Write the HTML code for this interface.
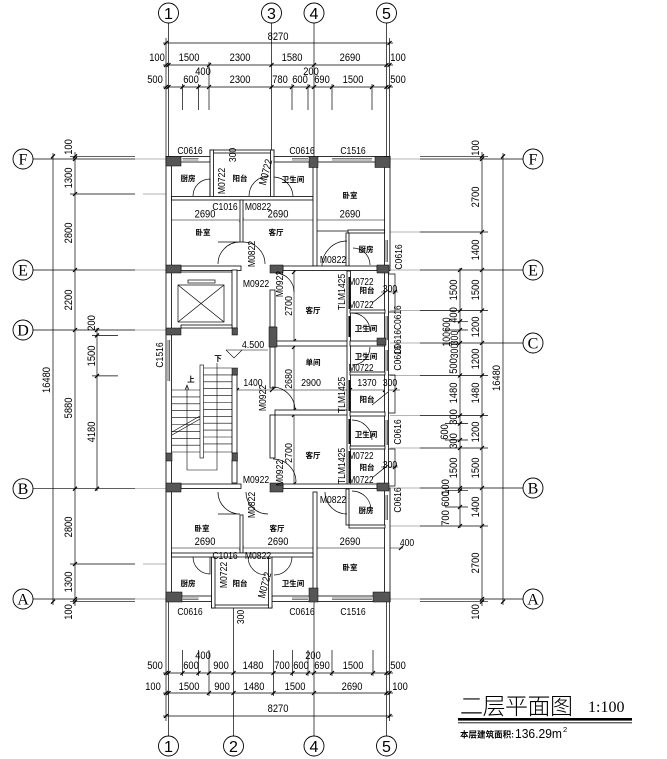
<!DOCTYPE html>
<html><head><meta charset="utf-8">
<style>
html,body{margin:0;padding:0;background:#fff;}
svg{display:block;}
.t{font-family:"Liberation Sans",sans-serif;font-size:11px;fill:#000;}
.s{font-family:"Liberation Sans",sans-serif;font-size:10.5px;fill:#000;}
.c{font-family:"Liberation Sans","Noto Sans CJK SC",sans-serif;font-size:7.5px;font-weight:bold;fill:#000;}
.ax{font-family:"Liberation Sans",sans-serif;font-size:16px;fill:#000;}
.ay{font-family:"Liberation Serif",serif;font-size:16px;fill:#000;}
</style></head><body>
<svg width="667" height="759" viewBox="0 0 667 759" xmlns="http://www.w3.org/2000/svg">
<rect width="667" height="759" fill="#fff"/>

<!-- ===== gray extension lines ===== -->
<g stroke="#9a9a9a" stroke-width="0.7" fill="none">
<path d="M135,159H166 M135,270H166 M135,330H166 M135,488.7H166 M135,599H166 M143,194H166 M143,564H166"/>
<path d="M390,159H420 M390,270H420 M390,343H420 M390,488H420 M390,599H420 M390,232H420 M390,310.5H420 M390,375.5H420 M390,415.5H420 M390,448H420 M390,526H420"/>
</g>

<!-- ===== black dimension / axis lines ===== -->
<g stroke="#000" stroke-width="0.7" fill="none">
<path d="M168.5,23V157 M271.5,23V157 M314,23V157 M386.5,23V157"/>
<path d="M166,38V157 M389.5,38V157"/>
<path d="M163,43H393 M163,65H393 M163,87H393"/>
<path d="M182.5,84V110 M198.5,84V110 M209,62V110 M292,84V110 M308,84V110 M332,84V110 M372,84V110"/>
<path d="M168.5,602V736 M233.5,608V736 M314,602V736 M386.5,602V736"/>
<path d="M166,602V721 M389.5,602V721"/>
<path d="M163,673H393 M163,693H393 M163,716H393"/>
<path d="M182.5,650V676 M198.5,650V676 M209,650V696 M273.5,650V696 M292.5,650V676 M308,650V676 M332,650V676 M373,650V676"/>
<path d="M33,159H135 M33,270H135 M33,330H135 M33,488.7H135 M33,599H135 M70,194H135 M70,564H135 M70,156.3H135 M70,601.7H135 M92,335.4H118 M92,375.9H118"/>
<path d="M53,153V605 M75,152V606 M97,328V491"/>
<path d="M420,159H523 M420,270H523 M420,343H523 M420,488H523 M420,599H523 M420,232H488 M420,310.5H488 M420,375.5H488 M420,415.5H488 M420,448H488 M420,526H488 M420,156.3H488 M420,601.7H488"/>
<path d="M445,321.3H468 M445,330H468 M445,423.6H468 M445,440H468 M445,490.7H468 M445,507H468"/>
<path d="M503,153V605 M482,152V606 M460,268V528"/>
</g>

<!-- ticks -->
<g stroke="#000" stroke-width="1.2" fill="none">
<path d="M164,45l4,-4 M387.5,45l4,-4
M164,67l4,-4 M166.5,67l4,-4 M207,67l4,-4 M269.5,67l4,-4 M312,67l4,-4 M384.5,67l4,-4 M387.5,67l4,-4
M164,89l4,-4 M166.5,89l4,-4 M180.5,89l4,-4 M196.5,89l4,-4 M207,89l4,-4 M269.5,89l4,-4 M290,89l4,-4 M306,89l4,-4 M312,89l4,-4 M330,89l4,-4 M370,89l4,-4 M384.5,89l4,-4 M387.5,89l4,-4
M164,675l4,-4 M166.5,675l4,-4 M180.5,675l4,-4 M196.5,675l4,-4 M207,675l4,-4 M231.5,675l4,-4 M271.5,675l4,-4 M290.5,675l4,-4 M306,675l4,-4 M312,675l4,-4 M330,675l4,-4 M371,675l4,-4 M384.5,675l4,-4 M387.5,675l4,-4
M164,695l4,-4 M166.5,695l4,-4 M207,695l4,-4 M231.5,695l4,-4 M271.5,695l4,-4 M312,695l4,-4 M384.5,695l4,-4 M387.5,695l4,-4
M164,718l4,-4 M387.5,718l4,-4
M51,158.3l4,-4 M51,603.7l4,-4
M73,158.3l4,-4 M73,161l4,-4 M73,196l4,-4 M73,272l4,-4 M73,332l4,-4 M73,490.7l4,-4 M73,566l4,-4 M73,601l4,-4 M73,603.7l4,-4
M95,332l4,-4 M95,337.4l4,-4 M95,377.9l4,-4 M95,490.7l4,-4
M501,158.3l4,-4 M501,603.7l4,-4
M480,158.3l4,-4 M480,161l4,-4 M480,234l4,-4 M480,272l4,-4 M480,312.5l4,-4 M480,345l4,-4 M480,377.5l4,-4 M480,417.5l4,-4 M480,450l4,-4 M480,490l4,-4 M480,528l4,-4 M480,601l4,-4 M480,603.7l4,-4
M458,272l4,-4 M458,312.5l4,-4 M458,323.3l4,-4 M458,332l4,-4 M458,345l4,-4 M458,377.5l4,-4 M458,417.5l4,-4 M458,425.6l4,-4 M458,442l4,-4 M458,450l4,-4 M458,490l4,-4 M458,492.7l4,-4 M458,509l4,-4 M458,528l4,-4
M166.5,222l4,-4 M239.5,222l4,-4 M313,222l4,-4 M384.5,222l4,-4
M166.5,550l4,-4 M239.5,550l4,-4 M313,550l4,-4 M384.5,550l4,-4 M399,550l4,-4
M292,274l4,-4 M292,343l4,-4 M292,349l4,-4 M292,412l4,-4 M292,417l4,-4 M292,486l4,-4
M235,392l4,-4 M270,392l4,-4 M348,392l4,-4 M383,392l4,-4 M393,392l4,-4
M383,294l4,-4 M393,294l4,-4 M383,469l4,-4 M393,469l4,-4
"/>
</g>

<!-- interior dimension lines -->
<g stroke="#000" stroke-width="0.6" fill="none">
<path d="M166,220H389 M166,548H403 M294,270V488 M233,390H400 M381,292H398 M381,467H398"/>
</g>

<!-- ===== circles ===== -->
<g stroke="#000" stroke-width="0.9" fill="#fff">
<circle cx="168.5" cy="13" r="10"/><circle cx="271.5" cy="13" r="10"/><circle cx="314" cy="13" r="10"/><circle cx="386.5" cy="13" r="10"/>
<circle cx="168.5" cy="746" r="10"/><circle cx="233.5" cy="746" r="10"/><circle cx="314" cy="746" r="10"/><circle cx="386.5" cy="746" r="10"/>
<circle cx="23" cy="159" r="10"/><circle cx="23" cy="270" r="10"/><circle cx="23" cy="330" r="10"/><circle cx="23" cy="488.7" r="10"/><circle cx="23" cy="599" r="10"/>
<circle cx="533" cy="159" r="10"/><circle cx="533" cy="270" r="10"/><circle cx="533" cy="343" r="10"/><circle cx="533" cy="488" r="10"/><circle cx="533" cy="599" r="10"/>
</g>
<g class="ax" text-anchor="middle">
<text x="168.5" y="19">1</text><text x="271.5" y="19">3</text><text x="314" y="19">4</text><text x="386.5" y="19">5</text>
<text x="168.5" y="752">1</text><text x="233.5" y="752">2</text><text x="314" y="752">4</text><text x="386.5" y="752">5</text>
</g>
<g class="ay" text-anchor="middle">
<text x="23" y="164.5">F</text><text x="23" y="275.5">E</text><text x="23" y="335.5">D</text><text x="23" y="494">B</text><text x="23" y="604.5">A</text>
<text x="533" y="164.5">F</text><text x="533" y="275.5">E</text><text x="533" y="348.5">C</text><text x="533" y="493.5">B</text><text x="533" y="604.5">A</text>
</g>

<!-- ===== dimension texts ===== -->
<g class="t" text-anchor="middle">
<text transform="translate(278,40) scale(.85,1)">8270</text>
<text transform="translate(157,61) scale(.85,1)">100</text>
<text transform="translate(189,61) scale(.85,1)">1500</text>
<text transform="translate(240,61) scale(.85,1)">2300</text>
<text transform="translate(292,61) scale(.85,1)">1580</text>
<text transform="translate(350,61) scale(.85,1)">2690</text>
<text transform="translate(398,61) scale(.85,1)">100</text>
<text transform="translate(203,75) scale(.85,1)">400</text>
<text transform="translate(311,75) scale(.85,1)">200</text>
<text transform="translate(155,83) scale(.85,1)">500</text>
<text transform="translate(191,83) scale(.85,1)">600</text>
<text transform="translate(240,83) scale(.85,1)">2300</text>
<text transform="translate(280,83) scale(.85,1)">780</text>
<text transform="translate(300,83) scale(.85,1)">600</text>
<text transform="translate(322,83) scale(.85,1)">690</text>
<text transform="translate(353,83) scale(.85,1)">1500</text>
<text transform="translate(398,83) scale(.85,1)">500</text>

<text transform="translate(203,659) scale(.85,1)">400</text>
<text transform="translate(313,659) scale(.85,1)">200</text>
<text transform="translate(155,669) scale(.85,1)">500</text>
<text transform="translate(191,669) scale(.85,1)">600</text>
<text transform="translate(221,669) scale(.85,1)">900</text>
<text transform="translate(253,669) scale(.85,1)">1480</text>
<text transform="translate(282,669) scale(.85,1)">700</text>
<text transform="translate(301,669) scale(.85,1)">600</text>
<text transform="translate(322,669) scale(.85,1)">690</text>
<text transform="translate(353,669) scale(.85,1)">1500</text>
<text transform="translate(398,669) scale(.85,1)">500</text>
<text transform="translate(153,690) scale(.85,1)">100</text>
<text transform="translate(189,690) scale(.85,1)">1500</text>
<text transform="translate(222,690) scale(.85,1)">900</text>
<text transform="translate(254,690) scale(.85,1)">1480</text>
<text transform="translate(295,690) scale(.85,1)">1500</text>
<text transform="translate(352,690) scale(.85,1)">2690</text>
<text transform="translate(400,690) scale(.85,1)">100</text>
<text transform="translate(278,712) scale(.85,1)">8270</text>

<text transform="translate(50,380) rotate(-90) scale(.85,1)">16480</text>
<text transform="translate(72,147) rotate(-90) scale(.85,1)">100</text>
<text transform="translate(72,178) rotate(-90) scale(.85,1)">1300</text>
<text transform="translate(72,233) rotate(-90) scale(.85,1)">2800</text>
<text transform="translate(72,300) rotate(-90) scale(.85,1)">2200</text>
<text transform="translate(72,408) rotate(-90) scale(.85,1)">5880</text>
<text transform="translate(72,527) rotate(-90) scale(.85,1)">2800</text>
<text transform="translate(72,582) rotate(-90) scale(.85,1)">1300</text>
<text transform="translate(72,612) rotate(-90) scale(.85,1)">100</text>
<text transform="translate(95,323) rotate(-90) scale(.85,1)">200</text>
<text transform="translate(95,356) rotate(-90) scale(.85,1)">1500</text>
<text transform="translate(95,432) rotate(-90) scale(.85,1)">4180</text>

<text transform="translate(500,378) rotate(-90) scale(.85,1)">16480</text>
<text transform="translate(479,148) rotate(-90) scale(.85,1)">100</text>
<text transform="translate(479,197) rotate(-90) scale(.85,1)">2700</text>
<text transform="translate(479,250) rotate(-90) scale(.85,1)">1400</text>
<text transform="translate(479,290) rotate(-90) scale(.85,1)">1500</text>
<text transform="translate(479,327) rotate(-90) scale(.85,1)">1200</text>
<text transform="translate(479,359) rotate(-90) scale(.85,1)">1200</text>
<text transform="translate(479,393) rotate(-90) scale(.85,1)">1480</text>
<text transform="translate(479,432) rotate(-90) scale(.85,1)">1200</text>
<text transform="translate(479,468) rotate(-90) scale(.85,1)">1500</text>
<text transform="translate(479,507) rotate(-90) scale(.85,1)">1400</text>
<text transform="translate(479,563) rotate(-90) scale(.85,1)">2700</text>
<text transform="translate(479,612) rotate(-90) scale(.85,1)">100</text>

<text transform="translate(457,290) rotate(-90) scale(.85,1)">1500</text>
<text transform="translate(457,315) rotate(-90) scale(.85,1)">400</text>
<text transform="translate(450,332) rotate(-90) scale(.8,1)">100600</text>
<text transform="translate(458,338) rotate(-90) scale(.8,1)">300</text>
<text transform="translate(458,351) rotate(-90) scale(.8,1)">300</text>
<text transform="translate(457,366) rotate(-90) scale(.85,1)">500</text>
<text transform="translate(457,393) rotate(-90) scale(.85,1)">1480</text>
<text transform="translate(457,417) rotate(-90) scale(.85,1)">300</text>
<text transform="translate(448,432) rotate(-90) scale(.85,1)">600</text>
<text transform="translate(457,441) rotate(-90) scale(.85,1)">300</text>
<text transform="translate(457,468) rotate(-90) scale(.85,1)">1500</text>
<text transform="translate(449,487) rotate(-90) scale(.85,1)">100</text>
<text transform="translate(449,499) rotate(-90) scale(.85,1)">600</text>
<text transform="translate(449,518) rotate(-90) scale(.85,1)">700</text>
</g>

<!-- ===== WALLS ===== -->
<g stroke="#000" stroke-width="0.8" fill="#fff">
<rect x="166" y="156.5" width="44" height="5.5"/>
<rect x="274" y="156.5" width="116" height="5.5"/>
<rect x="166" y="596" width="45.5" height="5.5"/>
<rect x="272" y="596" width="118" height="5.5"/>
<rect x="166" y="156.5" width="5.5" height="445"/>
<rect x="384.5" y="156.5" width="5.5" height="114"/>
<rect x="384.5" y="270" width="4" height="218"/>
<rect x="384.5" y="488" width="5.5" height="113.5"/>
<rect x="210" y="150" width="64" height="3"/>
<rect x="210" y="150" width="3.5" height="48"/>
<rect x="270.5" y="150" width="3.5" height="48"/>
<rect x="211.5" y="605" width="60.5" height="3"/>
<rect x="211.5" y="557" width="3.5" height="51"/>
<rect x="268.5" y="557" width="3.5" height="51"/>
<rect x="171.5" y="196.5" width="141.5" height="3.5"/>
<rect x="313" y="162" width="4" height="104"/>
<rect x="240" y="200" width="3" height="42"/>
<rect x="348" y="230" width="36.5" height="3"/>
<rect x="346" y="233" width="3" height="33"/>
<rect x="181" y="266" width="60" height="4.5"/>
<rect x="283" y="266" width="94" height="4.5"/>
<rect x="232" y="375" width="5" height="78"/>
<rect x="232" y="460" width="5" height="23"/>
<rect x="232" y="270" width="5" height="58"/>
<rect x="181" y="325" width="51" height="3"/>
<rect x="270" y="290" width="5" height="37"/>
<rect x="270" y="347" width="5" height="41"/>
<rect x="270" y="415" width="5" height="43"/>
<rect x="275" y="341" width="75" height="5"/>
<rect x="275" y="410" width="75" height="5"/>
<rect x="347" y="271" width="3.5" height="213"/>
<rect x="350" y="310" width="35" height="3"/>
<rect x="350" y="341" width="35" height="5"/>
<rect x="350" y="372" width="35" height="3"/>
<rect x="350" y="412" width="35" height="4"/>
<rect x="350" y="446" width="35" height="3"/>
<rect x="181" y="484" width="60" height="4.5"/>
<rect x="283" y="484" width="94" height="4.5"/>
<rect x="346" y="489" width="3" height="36"/>
<rect x="349" y="525" width="36" height="3"/>
<rect x="313" y="492" width="4" height="104"/>
<rect x="240" y="515" width="3" height="38"/>
<rect x="171.5" y="553" width="141.5" height="4"/>
</g>

<g stroke="#000" stroke-width="0.7" fill="none">
<path d="M388.5,274H395V312H388.5 M388.5,375H395V413H388.5 M388.5,449H395V486H388.5"/>
<path d="M317,231H348"/>
<rect x="178" y="285" width="46" height="37"/>
<path d="M178,285L224,322 M224,285L178,322"/>
<rect x="188" y="280" width="27" height="3"/>
<path d="M172,272H232"/>
</g>

<g stroke="#000" stroke-width="0.6" fill="none">
<path d="M182.5,158.5H198.5 M182.5,160H198.5 M292,158.5H308 M292,160H308 M332,158.5H372 M332,160H372"/>
<path d="M182.5,598H198.5 M182.5,599.5H198.5 M292,598H308 M292,599.5H308 M332,598H372 M332,599.5H372"/>
<path d="M168,340V381 M169.5,340V381"/>
<path d="M386,240V262 M387.5,240V262 M386,316V340 M387.5,316V340 M386,350V371 M387.5,350V371 M386,420V445 M387.5,420V445 M386,495V520 M387.5,495V520"/>
</g>

<g stroke="#000" stroke-width="2" fill="none">
<path d="M349.5,277V309 M349.5,316V337 M349.5,380V411 M349.5,419V444 M349.5,451V483"/>
</g>

<g fill="#555" stroke="#000" stroke-width="0.5">
<rect x="166" y="156.5" width="15" height="9.5"/>
<rect x="309" y="156.5" width="9" height="11"/>
<rect x="375" y="156.5" width="15" height="11"/>
<rect x="166" y="265" width="15" height="8"/>
<rect x="270" y="265" width="13" height="8"/>
<rect x="377" y="265" width="12" height="8"/>
<rect x="166" y="328" width="15" height="7"/>
<rect x="232" y="328" width="5.5" height="7"/>
<rect x="269" y="327" width="8" height="20"/>
<rect x="377" y="338" width="9" height="7"/>
<rect x="232" y="368" width="5.5" height="7"/>
<rect x="166" y="453" width="6" height="8"/>
<rect x="232" y="453" width="5.5" height="8"/>
<rect x="166" y="483" width="15" height="9"/>
<rect x="270" y="483" width="13" height="9"/>
<rect x="377" y="483" width="12" height="8"/>
<rect x="166" y="592" width="16" height="10"/>
<rect x="309" y="588" width="9" height="14"/>
<rect x="373" y="592" width="17" height="10"/>
</g>

<g stroke="#000" stroke-width="0.7" fill="none">
<path d="M193,196 A17,17 0 0,1 210,179 V196"/>
<path d="M249,196 A20,20 0 0,1 269,176"/>
<path d="M293,196 A20,20 0 0,0 274,177"/>
<path d="M218,264 A22,22 0 0,1 240,242 H218"/>
<path d="M243,242 A22,22 0 0,1 265,264"/>
<path d="M322,266 A25,25 0 0,1 347,241"/>
<path d="M353,248 A17,17 0 0,1 370,265"/>
<path d="M275,273 A19,19 0 0,1 294,292"/>
<path d="M272,387 A23,23 0 0,1 295,410"/>
<path d="M273,459 A23,23 0 0,1 296,482"/>
<path d="M352,313 A18,18 0 0,1 370,331"/>
<path d="M370,347 A18,18 0 0,1 352,365"/>
<path d="M352,420 A20,20 0 0,1 372,440"/>
<path d="M352,491 A19,19 0 0,1 371,510"/>
<path d="M193,557 A17,17 0 0,0 210,574 V557"/>
<path d="M248,557 A18,18 0 0,0 266,575"/>
<path d="M292,557 A18,18 0 0,1 274,575"/>
<path d="M218,492 A22,22 0 0,0 240,514 H218"/>
<path d="M246,492 A22,22 0 0,0 268,514"/>
<path d="M325,492 A22,22 0 0,0 347,514"/>
<path d="M372,303 L388,290 M372,478 L388,465 M372,405 L388,392"/>
</g>

<g stroke="#000" stroke-width="0.6" fill="none">
<path d="M172,390H200 M172,396.9H200 M172,403.8H200 M172,410.7H200 M172,417.6H200 M172,424.5H200 M172,431.4H200 M172,438.3H200 M172,445.2H200 M172,452H200"/>
<path d="M203.5,368H232 M203.5,374.9H232 M203.5,381.8H232 M203.5,388.7H232 M203.5,395.6H232 M203.5,402.5H232 M203.5,409.4H232 M203.5,416.3H232 M203.5,423.2H232 M203.5,430.1H232 M203.5,437H232 M203.5,443.9H232 M203.5,452H232"/>
<rect x="200" y="365" width="3.5" height="93" fill="#fff"/>
<path d="M172,432 L200,416 M172,435 L200,419"/>
<path d="M187,386V470H217V363"/>
<path d="M185,390 L187,385 L189,390"/>
<path d="M226,350H268 M226,350 L234,358 L242,350"/>
</g>

<g class="s" text-anchor="middle">
<text transform="translate(190,154) scale(.82,1)">C0616</text>
<text transform="translate(302,154) scale(.82,1)">C0616</text>
<text transform="translate(353,154) scale(.82,1)">C1516</text>
<text transform="translate(225,210) scale(.82,1)">C1016</text>
<text transform="translate(258,210) scale(.82,1)">M0822</text>
<text transform="translate(333,263) scale(.82,1)">M0822</text>
<text transform="translate(256,287) scale(.82,1)">M0922</text>
<text transform="translate(361,285) scale(.78,1)">M0722</text>
<text transform="translate(361,308) scale(.78,1)">M0722</text>
<text transform="translate(390,292) scale(.82,1)">300</text>
<text transform="translate(361,371) scale(.78,1)">M0722</text>
<text transform="translate(367,386) scale(.82,1)">1370</text>
<text transform="translate(390,386) scale(.82,1)">300</text>
<text transform="translate(253,386) scale(.82,1)">1400</text>
<text transform="translate(311,386) scale(.85,1)">2900</text>
<text transform="translate(253,348) scale(.85,1)">4.500</text>
<text transform="translate(361,459) scale(.78,1)">M0722</text>
<text transform="translate(361,483) scale(.78,1)">M0722</text>
<text transform="translate(390,468) scale(.82,1)">300</text>
<text transform="translate(256,483) scale(.82,1)">M0922</text>
<text transform="translate(333,503) scale(.82,1)">M0822</text>
<text transform="translate(407,546) scale(.82,1)">400</text>
<text transform="translate(225,559) scale(.82,1)">C1016</text>
<text transform="translate(258,559) scale(.82,1)">M0822</text>
<text transform="translate(190,615) scale(.82,1)">C0616</text>
<text transform="translate(302,615) scale(.82,1)">C0616</text>
<text transform="translate(353,615) scale(.82,1)">C1516</text>
<text transform="translate(205,217.5) scale(.85,1)" class="t">2690</text>
<text transform="translate(278,217.5) scale(.85,1)" class="t">2690</text>
<text transform="translate(350,217.5) scale(.85,1)" class="t">2690</text>
<text transform="translate(205,545) scale(.85,1)" class="t">2690</text>
<text transform="translate(278,545) scale(.85,1)" class="t">2690</text>
<text transform="translate(350,545) scale(.85,1)" class="t">2690</text>

<text transform="translate(236,155) rotate(-90) scale(.82,1)">300</text>
<text transform="translate(225,181) rotate(-90) scale(.82,1)">M0722</text>
<text transform="translate(269,173) rotate(-75) scale(.82,1)">M0722</text>
<text transform="translate(255,254) rotate(-90) scale(.82,1)">M0822</text>
<text transform="translate(402,257) rotate(-90) scale(.82,1)">C0616</text>
<text transform="translate(283,284) rotate(-90) scale(.82,1)">M0922</text>
<text transform="translate(292,306) rotate(-90) scale(.85,1)">2700</text>
<text transform="translate(345,292) rotate(-90) scale(.82,1)">TLM1425</text>
<text transform="translate(401,330) rotate(-90) scale(.8,1)">C0616C0616</text>
<text transform="translate(401,358) rotate(-90) scale(.82,1)">C0616</text>
<text transform="translate(292,379) rotate(-90) scale(.85,1)">2680</text>
<text transform="translate(266,398) rotate(-90) scale(.82,1)">M0922</text>
<text transform="translate(345,395) rotate(-90) scale(.82,1)">TLM1425</text>
<text transform="translate(401,432) rotate(-90) scale(.82,1)">C0616</text>
<text transform="translate(292,453) rotate(-90) scale(.85,1)">2700</text>
<text transform="translate(283,473) rotate(-90) scale(.82,1)">M0922</text>
<text transform="translate(345,466) rotate(-90) scale(.82,1)">TLM1425</text>
<text transform="translate(401,500) rotate(-90) scale(.82,1)">C0616</text>
<text transform="translate(255,505) rotate(-90) scale(.82,1)">M0822</text>
<text transform="translate(227,575) rotate(-90) scale(.82,1)">M0722</text>
<text transform="translate(268,586) rotate(-75) scale(.82,1)">M0722</text>
<text transform="translate(244,617) rotate(-90) scale(.82,1)">300</text>
<text transform="translate(163,355) rotate(-90) scale(.82,1)">C1516</text>
</g>

<g class="c" text-anchor="middle">
<text x="188" y="181">厨房</text>
<text x="240" y="181">阳台</text>
<text x="293" y="182">卫生间</text>
<text x="350" y="198">卧室</text>
<text x="203" y="235">卧室</text>
<text x="276" y="235">客厅</text>
<text x="366" y="252">厨房</text>
<text x="313" y="313">客厅</text>
<text x="367" y="293">阳台</text>
<text x="366" y="331">卫生间</text>
<text x="366" y="359">卫生间</text>
<text x="313" y="365">单间</text>
<text x="367" y="402">阳台</text>
<text x="366" y="437">卫生间</text>
<text x="367" y="470">阳台</text>
<text x="313" y="458">客厅</text>
<text x="366" y="513">厨房</text>
<text x="202" y="531">卧室</text>
<text x="277" y="531">客厅</text>
<text x="350" y="570">卧室</text>
<text x="188" y="586">厨房</text>
<text x="240" y="586">阳台</text>
<text x="293" y="586">卫生间</text>
<text x="218" y="361">下</text>
<text x="191" y="382">上</text>
</g>

<!-- ===== title ===== -->
<text x="460" y="714" font-family="'Noto Sans CJK SC',sans-serif" font-size="23" font-weight="300" textLength="113" lengthAdjust="spacing" fill="#000">二层平面图</text>
<text x="588" y="712" font-family="'Liberation Serif',serif" font-size="16" fill="#000">1:100</text>
<rect x="458" y="718" width="174" height="2.6" fill="#000"/>
<path d="M458,722.8H632" stroke="#000" stroke-width="0.8"/>
<text x="460" y="737.5" font-family="'Liberation Sans','Noto Sans CJK SC',sans-serif" font-size="8.5" font-weight="bold" textLength="54" lengthAdjust="spacingAndGlyphs" fill="#000">本层建筑面积:</text>
<text x="515" y="738" font-family="'Liberation Sans',sans-serif" font-size="12.5" textLength="47" lengthAdjust="spacingAndGlyphs" fill="#000">136.29m</text>
<text x="563" y="732" font-family="'Liberation Sans',sans-serif" font-size="7.5" fill="#000">2</text>
</svg>
</body></html>
